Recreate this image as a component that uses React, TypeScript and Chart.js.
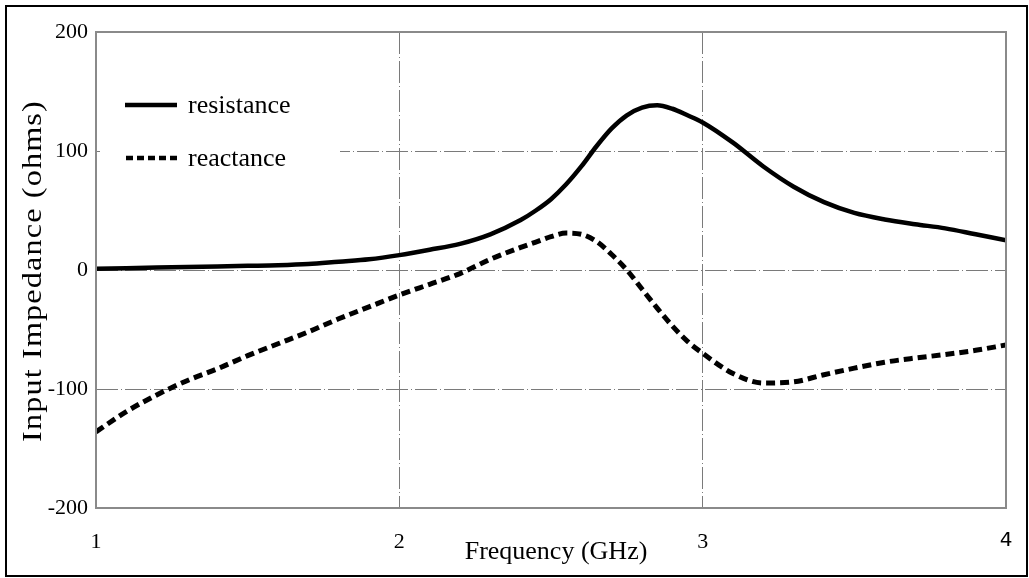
import React, { useEffect, useRef } from "react";
import { Chart, registerables } from "chart.js";

Chart.register(...registerables);

const frequency = [
  1.0, 1.1, 1.2, 1.3, 1.4, 1.5, 1.6, 1.7, 1.8, 1.9, 2.0, 2.1, 2.2, 2.3, 2.4,
  2.45, 2.5, 2.55, 2.6, 2.65, 2.7, 2.75, 2.8, 2.85, 2.9, 2.95, 3.0,
  3.1, 3.2, 3.3, 3.4, 3.5, 3.6, 3.7, 3.8, 3.9, 4.0,
];

const resistance = [
  1, 1.5, 2, 2.5, 3, 3.5, 4, 5, 7, 9, 12.5, 17, 22, 30, 42,
  50, 59.5, 72, 87, 104, 119, 130, 136.5, 138.5, 135.5, 130, 124,
  107, 87, 70, 57, 48, 42.5, 38.5, 35, 30, 25,
];

const reactance = [
  -136, -119, -105, -93, -83, -72, -62, -52, -41, -31, -21, -12, -3, 9, 19,
  23.5, 28, 31, 30, 24, 13, 0, -16, -32, -47, -60, -70,
  -87, -95, -94, -88, -82.5, -77.5, -74, -71, -67.5, -63,
];

const xTicks = [1, 2, 3, 4];
const yTicks = [-200, -100, 0, 100, 200];
const seriesLabels = ["resistance", "reactance"];
const xTitle = "Frequency (GHz)";
const yTitle = "Input Impedance (ohms)";

const SERIF = "'Liberation Serif', 'Times New Roman', serif";
const GRID_DASH = [22, 3, 1, 3];

const decorPlugin = {
  id: "decor",
  beforeDraw(chart: any) {
    const ctx = chart.ctx;
    ctx.save();
    ctx.fillStyle = "#ffffff";
    ctx.fillRect(0, 0, chart.width, chart.height);
    ctx.restore();
  },
  beforeDatasetsDraw(chart: any) {
    const ctx = chart.ctx;
    ctx.save();
    ctx.fillStyle = "#ffffff";
    ctx.fillRect(100, 60, 240, 130);
    ctx.restore();
  },
  afterDraw(chart: any) {
    const ctx = chart.ctx;
    const a = chart.chartArea;
    ctx.save();
    // plot border
    ctx.strokeStyle = "#8a8a8a";
    ctx.lineWidth = 2;
    ctx.setLineDash([]);
    ctx.strokeRect(a.left, a.top, a.right - a.left, a.bottom - a.top);
    // outer frame
    ctx.strokeStyle = "#000000";
    ctx.lineWidth = 2;
    ctx.strokeRect(6, 6, 1021, 570);

    // legend
    ctx.lineWidth = 4.5;
    ctx.strokeStyle = "#000";
    ctx.beginPath();
    ctx.moveTo(125, 105);
    ctx.lineTo(177, 105);
    ctx.stroke();
    ctx.setLineDash([7, 4]);
    ctx.beginPath();
    ctx.moveTo(126, 158);
    ctx.lineTo(178, 158);
    ctx.stroke();
    ctx.setLineDash([]);
    ctx.fillStyle = "#000";
    ctx.font = `26px ${SERIF}`;
    ctx.textAlign = "left";
    ctx.textBaseline = "alphabetic";
    ctx.fillText(seriesLabels[0], 188, 113);
    ctx.fillText(seriesLabels[1], 188, 166);

    // x title
    ctx.textAlign = "center";
    ctx.font = `26px ${SERIF}`;
    ctx.fillText(xTitle, 556, 559);

    // y title
    ctx.translate(41, 271);
    ctx.rotate(-Math.PI / 2);
    ctx.scale(1.15, 1);
    ctx.font = `28px ${SERIF}`;
    (ctx as any).letterSpacing = "1px";
    ctx.textAlign = "center";
    ctx.textBaseline = "alphabetic";
    ctx.fillText(yTitle, 0, 0);
    ctx.restore();
  },
};

export default function App() {
  const ref = useRef<HTMLCanvasElement | null>(null);

  useEffect(() => {
    if (!ref.current) return;
    const resData = frequency.map((f, i) => ({ x: f, y: resistance[i] }));
    const reaData = frequency.map((f, i) => ({ x: f, y: reactance[i] }));
    const chart = new Chart(ref.current, {
      type: "line",
      data: {
        datasets: [
          {
            label: seriesLabels[0],
            data: resData,
            borderColor: "#000",
            borderWidth: 4.5,
            pointRadius: 0,
            cubicInterpolationMode: "monotone",
            fill: false,
          },
          {
            label: seriesLabels[1],
            data: reaData,
            borderColor: "#000",
            borderWidth: 5,
            borderDash: [9, 5],
            pointRadius: 0,
            cubicInterpolationMode: "monotone",
            fill: false,
          },
        ],
      },
      options: {
        responsive: false,
        animation: false,
        layout: { padding: { left: 10, top: 32, right: 23, bottom: 20 } },
        plugins: {
          legend: { display: false },
          tooltip: { enabled: false },
          title: { display: false },
        },
        scales: {
          x: {
            type: "linear",
            min: xTicks[0],
            max: xTicks[xTicks.length - 1],
            afterFit: (s: any) => {
              s.height = 50;
              s.paddingLeft = 0;
              s.paddingRight = 0;
            },
            afterBuildTicks: (s: any) => {
              s.ticks = xTicks.map((v) => ({ value: v }));
            },
            border: { display: false, dash: GRID_DASH },
            grid: {
              color: "#7a7a7a",
              lineWidth: 1,
              drawTicks: false,
            },
            ticks: {
              padding: 21,
              color: "#000",
              maxRotation: 0,
              font: (c: any) =>
                c.tick && c.tick.value === 4
                  ? { family: "'DejaVu Sans', sans-serif", size: 20 }
                  : { family: SERIF, size: 22 },
              callback: (v: any) => String(v),
            },
          },
          y: {
            type: "linear",
            min: yTicks[0],
            max: yTicks[yTicks.length - 1],
            afterFit: (s: any) => {
              s.width = 86;
              s.paddingTop = 0;
              s.paddingBottom = 0;
            },
            afterBuildTicks: (s: any) => {
              s.ticks = yTicks.map((v) => ({ value: v }));
            },
            border: { display: false, dash: GRID_DASH },
            grid: {
              color: "#7a7a7a",
              lineWidth: 1,
              drawTicks: false,
            },
            ticks: {
              padding: 8,
              color: "#000",
              font: { family: SERIF, size: 22 },
              callback: (v: any) => String(v),
            },
          },
        },
      },
      plugins: [decorPlugin],
    } as any);
    return () => chart.destroy();
  }, []);

  return (
    <div style={{ position: "fixed", left: 0, top: 0, width: 1029, height: 578, background: "#fff" }}>
      <canvas ref={ref} width={1029} height={578} style={{ display: "block" }} />
    </div>
  );
}
